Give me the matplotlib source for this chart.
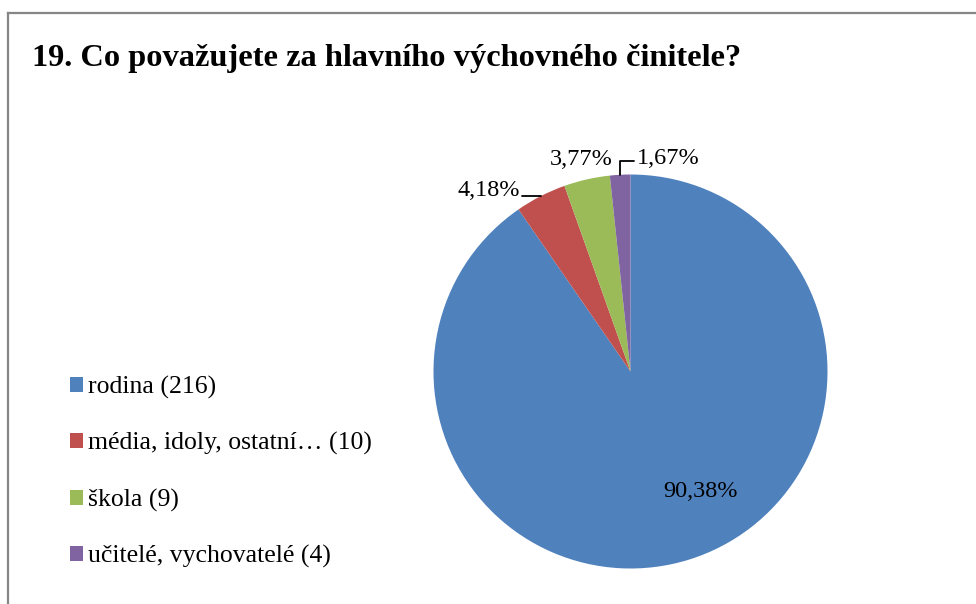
import matplotlib
matplotlib.use("Agg")
import matplotlib.pyplot as plt
from matplotlib.lines import Line2D
import numpy as np

# data
title = "19. Co považujete za hlavního výchovného činitele?"
categories = ["rodina", "média, idoly, ostatní…", "škola", "učitelé, vychovatelé"]
counts = [216, 10, 9, 4]
colors = ["#4F81BD", "#C0504D", "#9BBB59", "#8064A2"]

# label placement (pixels, from the outer midpoint of each wedge), Excel style
label_offsets = [(11, 68), (-21, 6), (-6, 20), (17, 16)]
label_ha = ["center", "right", "center", "left"]
leader = [None, (1.0, 0.22), None, (0.0, 0.4)]

W, H = 976, 604
plt.rcParams["font.family"] = ["Liberation Serif", "DejaVu Serif"]

fig = plt.figure(figsize=(W / 100, H / 100), dpi=100)

# chart frame (runs off the right and bottom edge)
frame_kw = dict(color="#868686", lw=1.6, transform=fig.transFigure)
fig.add_artist(Line2D([8 / W, 1.01], [1 - 13 / H, 1 - 13 / H], **frame_kw))
fig.add_artist(Line2D([8 / W, 8 / W], [-0.01, 1 - 13 / H], **frame_kw))

fig.text(32 / W, 1 - 66 / H, title, fontsize=23.3, fontweight="bold",
         ha="left", va="baseline")

# pie: centre (630.5, 371.5) px from top-left, radius 197 px
cx, cy, R = 630.5, 371.5, 197
ax = fig.add_axes([(cx - R) / W, (H - cy - R) / H, 2 * R / W, 2 * R / H])
wedges, _ = ax.pie(counts, colors=colors, startangle=90, counterclock=False,
                   radius=1, wedgeprops=dict(linewidth=0))
ax.set_xlim(-1, 1)
ax.set_ylim(-1, 1)
ax.set_aspect("equal")
ax.axis("off")

total = sum(counts)
for w, n, off, ha, rel in zip(wedges, counts, label_offsets, label_ha, leader):
    mid = np.deg2rad((w.theta1 + w.theta2) / 2)
    xy = (np.cos(mid), np.sin(mid))
    txt = f"{n / total * 100:.2f}%".replace(".", ",")
    arrow = None
    if rel is not None:
        arrow = dict(arrowstyle="-", color="black", lw=1.3, relpos=rel,
                     shrinkA=0, shrinkB=0,
                     connectionstyle="angle,angleA=0,angleB=90,rad=0")
    ax.annotate(txt, xy=xy, xytext=off, textcoords="offset pixels",
                ha=ha, va="center", fontsize=17.5, arrowprops=arrow,
                annotation_clip=False)

labels = [f"{c} ({n})" for c, n in zip(categories, counts)]
fig.legend(wedges, labels, loc="center left",
           bbox_to_anchor=(70 / W, (H - 472) / H), frameon=False,
           fontsize=18.5, handlelength=0.5, handleheight=0.5,
           handletextpad=0.2, labelspacing=1.3, borderpad=0,
           borderaxespad=0)

fig.savefig("out.png", dpi=100)
